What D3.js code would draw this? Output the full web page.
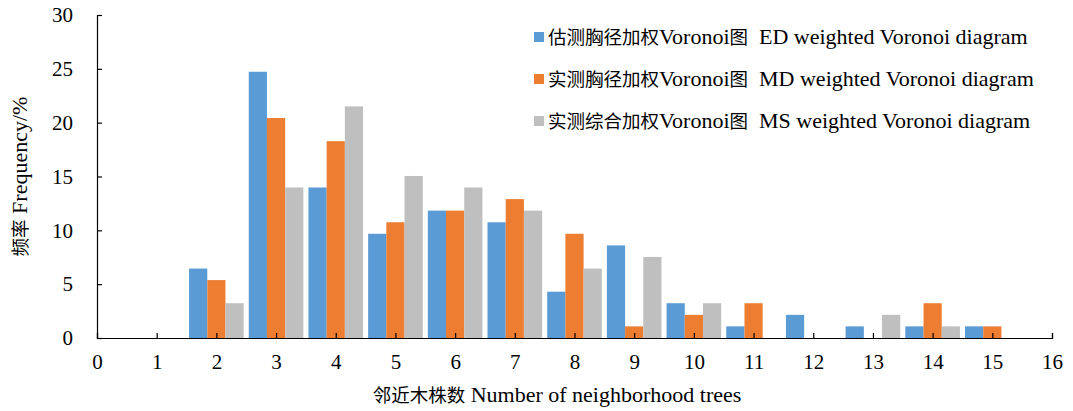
<!DOCTYPE html>
<html>
<head>
<meta charset="utf-8">
<script src="https://cdn.jsdelivr.net/npm/d3@7"></script>
<style>
  body { margin: 0; background: #fff; }
  text { font-family: "Liberation Serif", serif; fill: #000; }
</style>
</head>
<body>
<div id="chart"></div>
<script>
// neighbour counts and frequency (%) for each Voronoi weighting
const counts = [2, 3, 4, 5, 6, 7, 8, 9, 10, 11, 12, 13, 14, 15]
const ed = [6.45, 24.73, 13.98, 9.68, 11.83, 10.75, 4.30, 8.60, 3.23, 1.08, 2.15, 1.08, 1.08, 1.08]
const md = [5.38, 20.43, 18.28, 10.75, 11.83, 12.90, 9.68, 1.08, 2.15, 3.23, 0, 0, 3.23, 1.08]
const ms = [3.23, 13.98, 21.51, 15.05, 13.98, 11.83, 6.45, 7.53, 3.23, 0, 0, 2.15, 1.08, 0]
const seriesNames = [
  "估测胸径加权Voronoi图\u00a0 ED weighted Voronoi diagram",
  "实测胸径加权Voronoi图\u00a0 MD weighted Voronoi diagram",
  "实测综合加权Voronoi图\u00a0 MS weighted Voronoi diagram"
]
const colors = ["#5b9bd5", "#ed7d31", "#bfbfbf"]
const xTicks = d3.range(0, 17)
const yTicks = [0, 5, 10, 15, 20, 25, 30]

const W = 1073, H = 411
const margin = {left: 97, right: 21, top: 15, bottom: 73}

const svg = d3.select("#chart").append("svg")
  .attr("width", W).attr("height", H)

const x = d3.scaleLinear().domain([0, 16]).range([margin.left, W - margin.right])
const y = d3.scaleLinear().domain([0, 30]).range([H - margin.bottom, margin.top])

const bw = (x(1) - x(0)) * 0.305
const series = [ed, md, ms]

series.forEach(function(vals, si) {
  svg.append("g").selectAll("rect")
    .data(vals.map((v, i) => ({n: counts[i], v: v})))
    .join("rect")
    .attr("x", d => x(d.n) + (si - 1.5) * bw)
    .attr("y", d => y(d.v))
    .attr("width", bw)
    .attr("height", d => y(0) - y(d.v))
    .attr("fill", colors[si])
})

// axes
const xAxis = svg.append("g")
  .attr("transform", `translate(0,${y(0)})`)
  .call(d3.axisBottom(x).tickValues(xTicks).tickSize(-5).tickPadding(16).tickFormat(d3.format("d")))
const yAxis = svg.append("g")
  .attr("transform", `translate(${x(0)},0)`)
  .call(d3.axisLeft(y).tickValues(yTicks).tickSize(-5).tickPadding(24))

;[xAxis, yAxis].forEach(function(g) {
  g.select(".domain").attr("stroke", "#000").attr("stroke-width", 1.2)
  g.selectAll(".tick line").attr("stroke", "#000").attr("stroke-width", 1.2)
  g.selectAll(".tick text").attr("font-size", 21).attr("font-family", "Liberation Serif")
})

// mixed text: CJK runs in a sans CJK face, latin in serif
function mixed(sel, str) {
  str.match(/[\u3000-\u9fff]+|[^\u3000-\u9fff]+/g).forEach(function(part) {
    const cjk = /[\u3000-\u9fff]/.test(part)
    sel.append("tspan")
      .attr("font-family", cjk ? "Noto Sans CJK SC" : "Liberation Serif")
      .attr("font-size", cjk ? 18.5 : 22)
      .text(part)
  })
  return sel
}

// axis titles
svg.append("text")
  .attr("x", 557).attr("y", 402)
  .attr("text-anchor", "middle")
  .call(mixed, "邻近木株数 Number of neighborhood trees")

svg.append("text")
  .attr("transform", `translate(27,${(y(0) + y(30)) / 2}) rotate(-90)`)
  .attr("text-anchor", "middle")
  .call(mixed, "频率 Frequency/%")

// legend
const legend = svg.append("g")
seriesNames.forEach(function(name, i) {
  const ly = 37 + i * 42
  legend.append("rect")
    .attr("x", 534).attr("y", ly - 5).attr("width", 10).attr("height", 10)
    .attr("fill", colors[i])
  legend.append("text")
    .attr("x", 548).attr("y", ly + 7)
    .call(mixed, name)
})
</script>
</body>
</html>
